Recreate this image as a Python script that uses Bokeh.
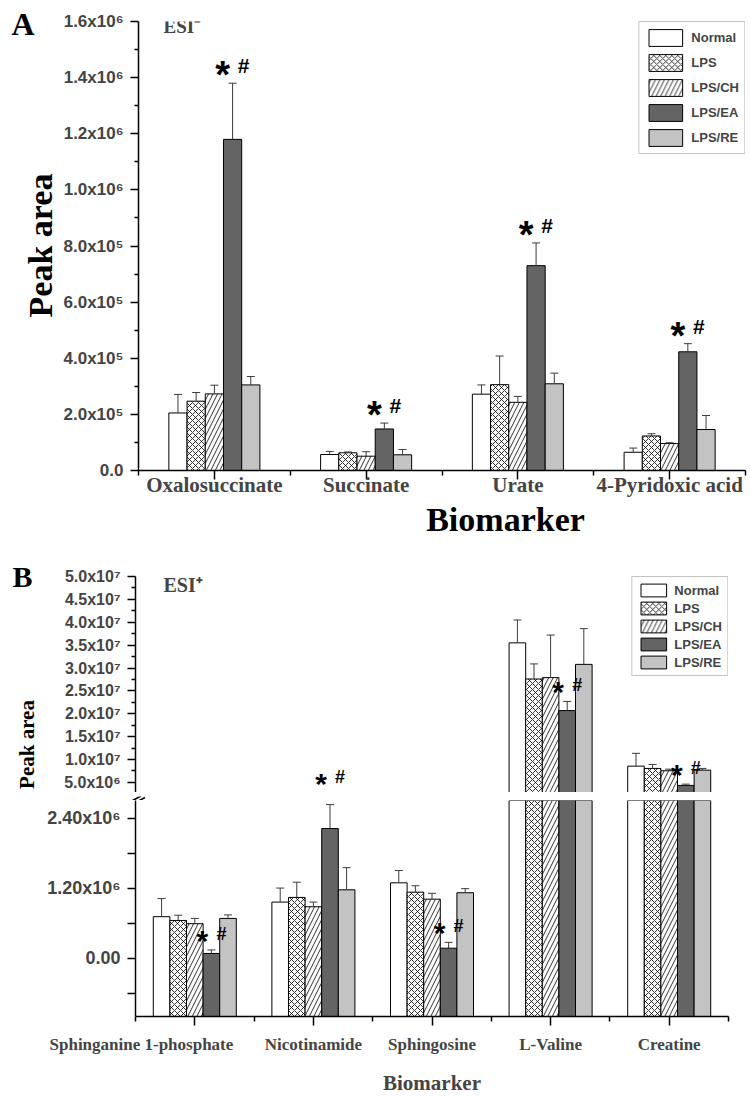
import math

from bokeh.core.properties import value
from bokeh.embed import file_html
from bokeh.layouts import column, row
from bokeh.models import (ColumnDataSource, FixedTicker, Label, LabelSet, Legend,
                          LegendItem, LinearAxis, Range1d)
from bokeh.plotting import figure
from bokeh.resources import INLINE
from bokeh.transform import dodge

SERIES = ["Normal", "LPS", "LPS/CH", "LPS/EA", "LPS/RE"]

# ---------------- ESI- biomarkers (peak area, mean and SD) ----------------
neg_markers = ["Oxalosuccinate", "Succinate", "Urate", "4-Pyridoxic acid"]
neg_normal = [2.05e5, 5.7e4, 2.72e5, 6.5e4]
neg_normal_sd = [6.6e4, 1.1e4, 3.3e4, 1.5e4]
neg_lps = [2.47e5, 6.3e4, 3.06e5, 1.23e5]
neg_lps_sd = [3.1e4, 3.0e3, 1.02e5, 8.0e3]
neg_ch = [2.73e5, 5.1e4, 2.43e5, 9.6e4]
neg_ch_sd = [3.1e4, 1.6e4, 2.1e4, 3.0e3]
neg_ea = [1.18e6, 1.48e5, 7.30e5, 4.23e5]
neg_ea_sd = [2.0e5, 2.1e4, 8.1e4, 2.9e4]
neg_re = [3.05e5, 5.6e4, 3.09e5, 1.46e5]
neg_re_sd = [3.0e4, 1.9e4, 3.8e4, 5.0e4]
neg_flagged = [True, True, True, True]

neg_ticks = [0, 200000, 400000, 600000, 800000, 1000000, 1200000, 1400000, 1600000]
neg_tick_labels = ["0.0", "2.0x10\u2075", "4.0x10\u2075", "6.0x10\u2075", "8.0x10\u2075",
                   "1.0x10\u2076", "1.2x10\u2076", "1.4x10\u2076", "1.6x10\u2076"]
neg_minor = [100000, 300000, 500000, 700000, 900000, 1100000, 1300000, 1500000]

# ---------------- ESI+ biomarkers ----------------
pos_markers = ["Sphinganine 1-phosphate", "Nicotinamide", "Sphingosine", "L-Valine", "Creatine"]
pos_normal = [0.71e6, 0.96e6, 1.29e6, 3.55e7, 8.56e6]
pos_normal_sd = [0.31e6, 0.24e6, 0.21e6, 5.0e6, 2.8e6]
pos_lps = [0.645e6, 1.04e6, 1.13e6, 2.76e7, 8.06e6]
pos_lps_sd = [0.09e6, 0.26e6, 0.11e6, 3.3e6, 0.87e6]
pos_ch = [0.59e6, 0.88e6, 1.01e6, 2.79e7, 7.55e6]
pos_ch_sd = [0.09e6, 0.08e6, 0.10e6, 9.3e6, 0.35e6]
pos_ea = [0.08e6, 2.22e6, 0.17e6, 2.07e7, 4.35e6]
pos_ea_sd = [0.06e6, 0.41e6, 0.10e6, 2.0e6, 0.28e6]
pos_re = [0.68e6, 1.17e6, 1.12e6, 3.08e7, 7.69e6]
pos_re_sd = [0.06e6, 0.38e6, 0.07e6, 7.8e6, 0.37e6]
pos_flagged = [True, True, True, True, True]

# broken y axis: lower and upper segments
pos_low_range = (-1.0e6, 2.7e6)
pos_high_range = (2.8e6, 5.0e7)
pos_low_ticks = [-600000, 0, 600000, 1200000, 1800000, 2400000]
pos_low_tick_labels = ["", "0.00", "", "1.20x10\u2076", "", "2.40x10\u2076"]
pos_high_ticks = [5000000 * k for k in range(1, 11)]
pos_high_tick_labels = ["5.0x10\u2076", "1.0x10\u2077", "1.5x10\u2077", "2.0x10\u2077",
                        "2.5x10\u2077", "3.0x10\u2077", "3.5x10\u2077", "4.0x10\u2077",
                        "4.5x10\u2077", "5.0x10\u2077"]
pos_high_minor = [2500000 + 5000000 * k for k in range(1, 10)]

SANS = "Liberation Sans"
SERIF = "Liberation Serif"

STYLE = {
    "Normal": dict(fill_color="white"),
    "LPS": dict(fill_color="white", hatch_pattern="diagonal_cross", hatch_scale=6,
                hatch_color="black", hatch_weight=0.8),
    "LPS/CH": dict(fill_color="white", hatch_pattern="right_diagonal_line", hatch_scale=9,
                   hatch_color="black", hatch_weight=0.8),
    "LPS/EA": dict(fill_color="#646464"),
    "LPS/RE": dict(fill_color="#c3c3c3"),
}


def make_fig(width, height, x_end, y_range, left, right, top, bottom, with_xaxis=True):
    p = figure(width=width, height=height, x_range=Range1d(0, x_end),
               y_range=Range1d(*y_range), output_backend="svg", toolbar_location=None,
               x_axis_location="below" if with_xaxis else None,
               min_border_left=left, min_border_right=right,
               min_border_top=top, min_border_bottom=bottom)
    p.frame_align = False
    p.outline_line_color = None
    p.xgrid.visible = False
    p.ygrid.visible = False
    p.background_fill_color = "white"
    p.border_fill_color = "white"
    ax = p.yaxis[0]
    ax.axis_line_width = 1.5
    ax.major_tick_line_width = 1.5
    ax.minor_tick_line_width = 1.5
    ax.major_tick_in = 0
    ax.major_tick_out = 8
    ax.minor_tick_in = 0
    ax.minor_tick_out = 4
    ax.major_label_text_font = SANS
    ax.major_label_text_font_style = "bold"
    ax.major_label_text_font_size = "17px"
    ax.major_label_standoff = 7
    return p


def text_strip(width, height):
    # plain pixel-space canvas for panel letters and free-standing titles
    s = figure(width=width, height=height, x_range=Range1d(0, width),
               y_range=Range1d(height, 0), output_backend="svg", toolbar_location=None,
               x_axis_location=None, y_axis_location=None, title_location=None,
               min_border=0)
    s.frame_align = False
    s.outline_line_color = None
    s.xgrid.visible = False
    s.ygrid.visible = False
    return s


def strip_text(s, x, y, text, size, angle=0.0, align="left", baseline="alphabetic"):
    s.text(x=[x], y=[y], text=[text], angle=angle, text_align=align,
           text_baseline=baseline, text_font=value(SERIF), text_font_style="bold",
           text_font_size=size, text_color="black")


def style_xaxis(ax, n):
    centers = [i + 0.5 for i in range(n)]
    ax.ticker = FixedTicker(ticks=centers, minor_ticks=list(range(n + 1)))
    ax.axis_line_width = 1.5
    ax.major_tick_line_width = 1.5
    ax.minor_tick_line_width = 1.5
    ax.major_tick_in = 0
    ax.major_tick_out = 9
    ax.minor_tick_in = 0
    ax.minor_tick_out = 5
    ax.major_label_standoff = 0


def draw_groups(p, centers, vals, sds, bar_w, base):
    rends = []
    for i, name in enumerate(SERIES):
        off = (i - 2) * bar_w
        src = ColumnDataSource(dict(x=centers, top=vals[i],
                                    hi=[v + s for v, s in zip(vals[i], sds[i])]))
        r = p.vbar(x=dodge("x", off), top="top", bottom=base, width=bar_w, source=src,
                   line_color="black", line_width=1, **STYLE[name])
        p.segment(x0=dodge("x", off), y0="top", x1=dodge("x", off), y1="hi", source=src,
                  line_color="#3c3c3c", line_width=1)
        p.scatter(x=dodge("x", off), y="hi", marker="dash", size=8, source=src,
                  line_color="#3c3c3c", line_width=1)
        rends.append(r)
    return rends


def add_marks(p, centers, ea, ea_sd, keep, off, star_px, hash_px, dx, star_dy, hash_dy):
    xs = [c for c, k in zip(centers, keep) if k]
    ys = [v + s for v, s, k in zip(ea, ea_sd, keep) if k]
    if not xs:
        return
    src = ColumnDataSource(dict(x=xs, y=ys, star=["*"] * len(xs), hash=["#"] * len(xs)))
    p.add_layout(LabelSet(x=dodge("x", off), y="y", text="star", source=src,
                          x_offset=-dx, y_offset=star_dy, text_align="center",
                          text_baseline="alphabetic", text_font=value(SANS),
                          text_font_style="bold", text_font_size=star_px,
                          text_color="black"))
    p.add_layout(LabelSet(x=dodge("x", off), y="y", text="hash", source=src,
                          x_offset=dx + 1, y_offset=hash_dy, text_align="center",
                          text_baseline="alphabetic", text_font=value(SANS),
                          text_font_style="bold", text_font_size=hash_px,
                          text_color="black"))


def make_legend(rends, glyph_w, glyph_h, spacing, pad):
    return Legend(items=[LegendItem(label=n, renderers=[r]) for n, r in zip(SERIES, rends)],
                  location="top_right", orientation="vertical",
                  glyph_width=glyph_w, glyph_height=glyph_h, spacing=spacing,
                  padding=pad, margin=0, label_standoff=5,
                  label_text_font=SANS, label_text_font_style="bold",
                  label_text_font_size="13px", label_height=glyph_h,
                  border_line_color="#8a8a8a", border_line_width=1,
                  background_fill_color="white", background_fill_alpha=1.0)


# ================= Panel A: ESI- =================
na = len(neg_markers)
neg_centers = [i + 0.5 for i in range(na)]
pa = make_fig(690, 500, na, (0, 1.6e6), left=76, right=5, top=21, bottom=30)
ya = pa.yaxis[0]
ya.ticker = FixedTicker(ticks=neg_ticks, minor_ticks=neg_minor)
ya.major_label_overrides = {t: s for t, s in zip(neg_ticks, neg_tick_labels)}

xa = pa.xaxis[0]
style_xaxis(xa, na)
xa.major_label_overrides = {c: m for c, m in zip(neg_centers, neg_markers)}
xa.major_label_text_font = SERIF
xa.major_label_text_font_style = "bold"
xa.major_label_text_font_size = "21px"
xa.major_label_standoff = -7

bw_a = 0.12
neg_vals = [neg_normal, neg_lps, neg_ch, neg_ea, neg_re]
neg_sds = [neg_normal_sd, neg_lps_sd, neg_ch_sd, neg_ea_sd, neg_re_sd]
rends_a = draw_groups(pa, neg_centers, neg_vals, neg_sds, bw_a, 0)
add_marks(pa, neg_centers, neg_ea, neg_ea_sd, neg_flagged, bw_a, "38px", "21px", 10, -5, 10)
pa.add_layout(make_legend(rends_a, 42, 21, 4, 5), "center")
pa.add_layout(Label(x=25, y=neg_ticks[-1], x_units="screen", y_units="data", y_offset=-15,
                    text="ESI\u207b", text_font=SERIF, text_font_style="bold",
                    text_font_size="19px"))

side_a = text_strip(60, 500)
strip_text(side_a, 11, 23, "A", "32px")
strip_text(side_a, 40, 245, "Peak area", "34px", angle=math.pi / 2, align="center",
           baseline="middle")

title_a = text_strip(750, 45)
strip_text(title_a, 505, 19, "Biomarker", "34px", align="center")

# ================= Panel B: ESI+ (broken axis, two stacked frames) =================
nb = len(pos_markers)
pos_centers = [i + 0.5 for i in range(nb)]
bw_b = 0.14
pos_vals = [pos_normal, pos_lps, pos_ch, pos_ea, pos_re]
pos_sds = [pos_normal_sd, pos_lps_sd, pos_ch_sd, pos_ea_sd, pos_re_sd]
pos_label_shift = [-0.45, 0.0, 0.0, 0.0, 0.0]

# upper segment
pb_hi = make_fig(710, 247, nb, pos_high_range, left=95, right=22, top=31, bottom=0,
                 with_xaxis=False)
yh = pb_hi.yaxis[0]
yh.ticker = FixedTicker(ticks=pos_high_ticks, minor_ticks=pos_high_minor)
yh.major_label_overrides = {t: s for t, s in zip(pos_high_ticks, pos_high_tick_labels)}
yh.major_label_text_font_size = "16px"
rends_b = draw_groups(pb_hi, pos_centers, pos_vals, pos_sds, bw_b, 0)
# significance marks whose label would sit above the lower segment go to the upper frame
hi_keep = [k and (v + s + 0.27e6) > pos_low_range[1]
           for v, s, k in zip(pos_ea, pos_ea_sd, pos_flagged)]
add_marks(pb_hi, pos_centers, pos_ea, pos_ea_sd, hi_keep, bw_b, "30px", "18px", 9, -1, 10)
pb_hi.add_layout(make_legend(rends_b, 32, 16, 2, 5), "center")
pb_hi.add_layout(Label(x=28, y=pos_high_range[1], x_units="screen", y_units="data",
                       y_offset=-19, text="ESI\u207a", text_font=SERIF,
                       text_font_style="bold", text_font_size="20px"))

side_b = text_strip(40, 247)
strip_text(side_b, 12, 31, "B", "30px")
strip_text(side_b, 26, 199, "Peak area", "21px", angle=math.pi / 2, align="center",
           baseline="middle")

# axis-break strip between the two segments
pb_gap = text_strip(750, 8)
pb_gap.segment(x0=[126.5, 130.5], y0=[7.0, 8.5], x1=[140.5, 144.5], y1=[-0.5, 1.0],
               line_color="black", line_width=1.6)

# lower segment
pb_lo = make_fig(750, 297, nb, pos_low_range, left=135, right=22, top=0, bottom=80)
yl = pb_lo.yaxis[0]
yl.ticker = FixedTicker(ticks=pos_low_ticks, minor_ticks=[])
yl.major_label_overrides = {t: s for t, s in zip(pos_low_ticks, pos_low_tick_labels)}
yl.major_label_text_font_size = "18px"
xl = pb_lo.xaxis[0]
style_xaxis(xl, nb)
xl.major_label_overrides = {c: "" for c in pos_centers}
xl.major_label_text_font_size = "1px"
label_pos = [c + s for c, s in zip(pos_centers, pos_label_shift)]
name_axis = LinearAxis(ticker=FixedTicker(ticks=label_pos, minor_ticks=[]),
                       major_label_overrides={x: m for x, m in zip(label_pos, pos_markers)},
                       axis_line_color=None, major_tick_line_color=None,
                       minor_tick_line_color=None, major_tick_out=0, major_tick_in=0,
                       major_label_standoff=9, major_label_text_font=SERIF,
                       major_label_text_font_style="bold", major_label_text_font_size="17px",
                       axis_label="Biomarker", axis_label_standoff=14,
                       axis_label_text_font=SERIF, axis_label_text_font_style="bold",
                       axis_label_text_font_size="21px")
pb_lo.add_layout(name_axis, "below")
draw_groups(pb_lo, pos_centers, pos_vals, pos_sds, bw_b, pos_low_range[0])
lo_keep = [k and not h for k, h in zip(pos_flagged, hi_keep)]
add_marks(pb_lo, pos_centers, pos_ea, pos_ea_sd, lo_keep, bw_b, "30px", "18px", 9, -1, 10)

layout = column(row(side_a, pa, spacing=0), title_a, row(side_b, pb_hi, spacing=0),
                pb_gap, pb_lo, spacing=0)
open("out.html", "w").write(file_html(layout, INLINE))
